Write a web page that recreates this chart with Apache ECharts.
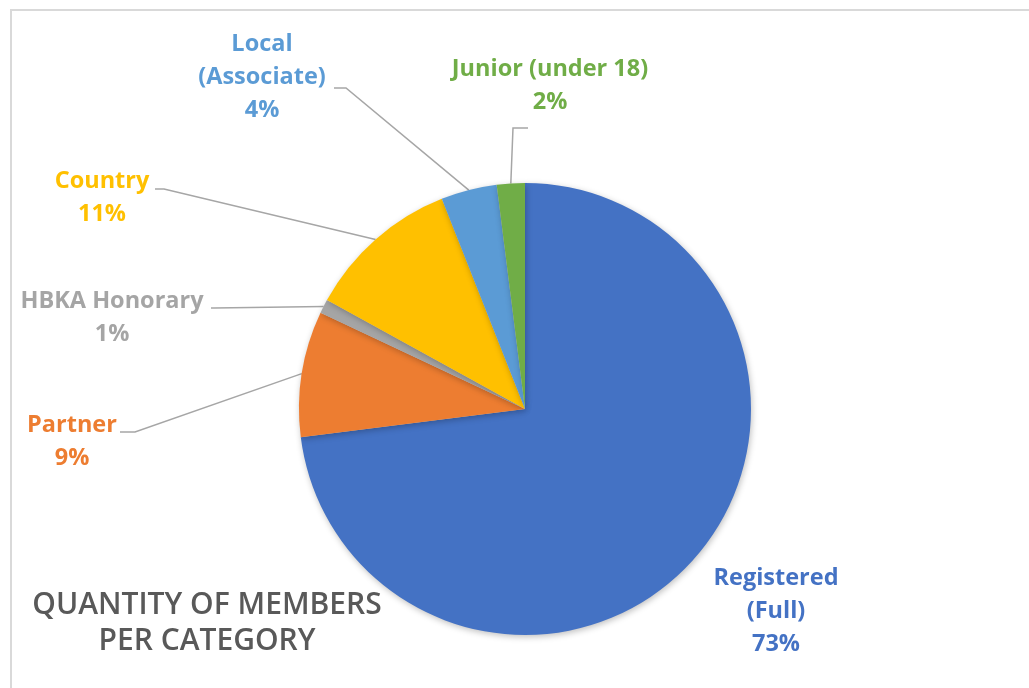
<!DOCTYPE html>
<html>
<head>
<meta charset="utf-8">
<script src="https://cdn.jsdelivr.net/npm/echarts@6/dist/echarts.min.js"></script>
<style>
  html, body { margin: 0; padding: 0; background: #fff; }
  #chart { width: 1029px; height: 688px; }
</style>
</head>
<body>
<div id="chart"></div>
<script>
// data (percent of members)
const categories = ['Registered (Full)', 'Partner', 'HBKA Honorary', 'Country', 'Local (Associate)', 'Junior (under 18)'];
const shares = [73, 9, 1, 11, 4, 2];

const colors = ['#4472C4', '#ED7D31', '#A5A5A5', '#FFC000', '#5B9BD5', '#70AD47'];
// label centres and leader elbows (layout only)
const labelPos = [[776, 611], [72, 442], [112, 318], [102, 198], [262, 77], [550, 86]];
const elbows = [null, [[135, 432], [120, 432]], [[214, 308], [211, 308]], [[164, 189], [155, 189]], [[346, 88], [334, 88]], [[513, 128], [528, 128]]];

const chart = echarts.init(document.getElementById('chart'));

chart.setOption({
    backgroundColor: '#fff',
    animation: false,
    graphic: [
        {
            type: 'polyline',
            shape: { points: [[11, 700], [11, 10], [1040, 10]] },
            style: { stroke: '#d9d9d9', lineWidth: 2, fill: null }
        },
        {
            type: 'text',
            x: 207,
            y: 587,
            style: {
                text: 'QUANTITY OF MEMBERS\nPER CATEGORY',
                textAlign: 'center',
                textVerticalAlign: 'top',
                font: '600 30px "Open Sans"',
                lineHeight: 36,
                fill: '#595959'
            }
        }
    ],
    series: [{
        type: 'pie',
        center: [525, 409],
        radius: 226,
        startAngle: 90,
        clockwise: true,
        avoidLabelOverlap: false,
        itemStyle: {
            shadowBlur: 6,
            shadowOffsetX: 1,
            shadowOffsetY: 2,
            shadowColor: 'rgba(0,0,0,0.25)'
        },
        label: {
            show: true,
            fontFamily: 'Open Sans',
            fontWeight: 'bold',
            fontSize: 23.5,
            lineHeight: 33,
            align: 'center',
            formatter: function (p) {
                let name = p.name;
                if (name === 'Registered (Full)' || name === 'Local (Associate)') {
                    name = name.replace(' ', '\n');
                }
                return name + '\n' + p.value + '%';
            }
        },
        labelLine: {
            show: true,
            lineStyle: { color: '#a6a6a6', width: 1.5 }
        },
        labelLayout: function (params) {
            const i = params.dataIndex;
            const out = {
                x: labelPos[i][0],
                y: labelPos[i][1],
                align: 'center',
                verticalAlign: 'middle'
            };
            if (elbows[i] && params.labelLinePoints) {
                const p0 = params.labelLinePoints[0];
                out.labelLinePoints = [p0, elbows[i][0], elbows[i][1]];
            }
            return out;
        },
        data: categories.map(function (name, i) {
            return {
                name: name,
                value: shares[i],
                itemStyle: { color: colors[i] },
                label: { color: colors[i] },
                labelLine: { show: i !== 0 }
            };
        })
    }]
});
</script>
</body>
</html>
